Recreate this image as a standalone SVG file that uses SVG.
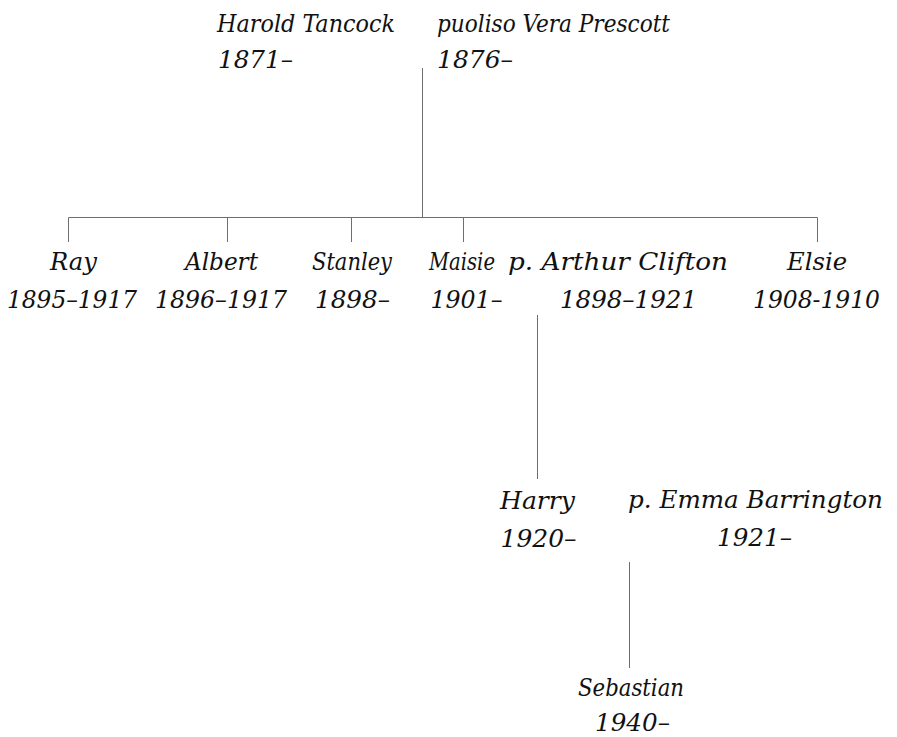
<svg xmlns="http://www.w3.org/2000/svg" width="897" height="737" viewBox="0 0 897 737">
<style>
text{font-family:"DejaVu Serif Condensed","DejaVu Serif",serif;font-stretch:condensed;font-style:italic;font-size:25px;fill:#111}
.c{stroke:#6e6e6e;stroke-width:1;fill:none}
</style>
<rect width="897" height="737" fill="#fff"/>
<g id="connectors" class="c">
<path d="M422.5 68V217.5"/>
<path d="M68.5 242V217.5H817.5V242"/>
<path d="M227.5 217.5V242M351.5 217.5V242M463.5 217.5V242"/>
<path d="M537.5 315V479"/>
<path d="M629.5 562V668"/>
</g>
<g id="harold"><text x="217" y="32" textLength="178" lengthAdjust="spacingAndGlyphs">Harold Tancock</text><text x="218" y="68" textLength="75" lengthAdjust="spacingAndGlyphs">1871–</text></g>
<g id="vera"><text x="437" y="32" textLength="233" lengthAdjust="spacingAndGlyphs">puoliso Vera Prescott</text><text x="437" y="68" textLength="76" lengthAdjust="spacingAndGlyphs">1876–</text></g>
<g id="ray"><text x="50" y="270" textLength="47" lengthAdjust="spacingAndGlyphs">Ray</text><text x="7" y="307.5" textLength="130" lengthAdjust="spacingAndGlyphs">1895–1917</text></g>
<g id="albert"><text x="185" y="270" textLength="73" lengthAdjust="spacingAndGlyphs">Albert</text><text x="155" y="307.5" textLength="132" lengthAdjust="spacingAndGlyphs">1896–1917</text></g>
<g id="stanley"><text x="312" y="270" textLength="80" lengthAdjust="spacingAndGlyphs">Stanley</text><text x="315" y="307.5" textLength="75" lengthAdjust="spacingAndGlyphs">1898–</text></g>
<g id="maisie"><text x="429" y="270" textLength="66" lengthAdjust="spacingAndGlyphs">Maisie</text><text x="430.5" y="307.5" textLength="72" lengthAdjust="spacingAndGlyphs">1901–</text></g>
<g id="arthur"><text x="508" y="270" textLength="220" lengthAdjust="spacingAndGlyphs">p. Arthur Clifton</text><text x="560" y="307.5" textLength="137" lengthAdjust="spacingAndGlyphs">1898–1921</text></g>
<g id="elsie"><text x="787" y="270" textLength="60" lengthAdjust="spacingAndGlyphs">Elsie</text><text x="753" y="307.5" textLength="127" lengthAdjust="spacingAndGlyphs">1908-1910</text></g>
<g id="harry"><text x="500" y="509" textLength="75" lengthAdjust="spacingAndGlyphs">Harry</text><text x="500.5" y="547" textLength="76" lengthAdjust="spacingAndGlyphs">1920–</text></g>
<g id="emma"><text x="628" y="508" textLength="255" lengthAdjust="spacingAndGlyphs">p. Emma Barrington</text><text x="717" y="546" textLength="75" lengthAdjust="spacingAndGlyphs">1921–</text></g>
<g id="sebastian"><text x="578" y="696" textLength="106" lengthAdjust="spacingAndGlyphs">Sebastian</text><text x="595" y="731" textLength="75" lengthAdjust="spacingAndGlyphs">1940–</text></g>
</svg>
